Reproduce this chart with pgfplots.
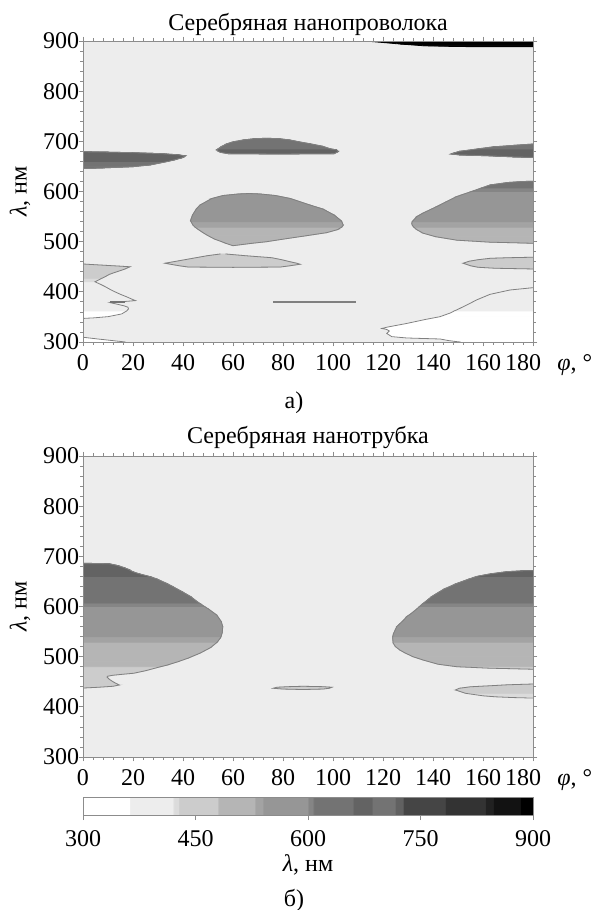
\documentclass[border=0pt,12pt]{standalone}
\usepackage{fontspec}
\setmainfont{Liberation Serif}
\usepackage{pgfplots}
\usepackage{pgfplotstable}
\pgfplotsset{compat=1.18}
\definecolor{bgc}{gray}{0.93}

\pgfplotsset{
  /pgf/number format/assume math mode=true,
  colormap={lam}{gray(0pt)=(1); gray(62pt)=(1); gray(62.5pt)=(0.93); gray(120pt)=(0.93); gray(120.5pt)=(0.86); gray(127pt)=(0.86); gray(127.5pt)=(0.8); gray(180pt)=(0.8); gray(180.5pt)=(0.71); gray(229pt)=(0.71); gray(229.5pt)=(0.64); gray(240pt)=(0.64); gray(240.5pt)=(0.59); gray(300pt)=(0.59); gray(300.5pt)=(0.52); gray(307pt)=(0.52); gray(307.5pt)=(0.45); gray(360pt)=(0.45); gray(360.5pt)=(0.39); gray(385pt)=(0.39); gray(385.5pt)=(0.45); gray(416pt)=(0.45); gray(416.5pt)=(0.38); gray(427pt)=(0.38); gray(427.5pt)=(0.27); gray(483pt)=(0.27); gray(483.5pt)=(0.2); gray(536pt)=(0.2); gray(536.5pt)=(0.13); gray(547pt)=(0.13); gray(547.5pt)=(0.07); gray(583pt)=(0.07); gray(583.5pt)=(0); gray(600pt)=(0)},
  panel/.style={
    scale only axis, width=225pt, height=150.5pt,
    xmin=0, xmax=180, ymin=300, ymax=900,
    xtick={0,20,...,180}, ytick={300,400,...,900},
    xticklabels={0,20,40,60,80,100,120,140,160,\hspace*{-10pt}180},
    yticklabel style={xshift=4.5pt},
    minor x tick num=4, minor y tick num=4,
    tick align=outside,
    major tick length=2.2pt, minor tick length=1.3pt,
    axis line style={black!45, line width=0.5pt},
    every tick/.style={black!45, line width=0.4pt},
    axis background/.style={fill=bgc},
    axis on top,
    colormap name=lam, point meta min=300, point meta max=900,
    xlabel={{\itshape φ}, °},
    xlabel style={at={(axis description cs:1,0)}, anchor=base west, inner sep=0pt, xshift=12pt, yshift=-14pt},
    ylabel={{\itshape λ}, нм},
    ylabel style={at={(axis description cs:-0.14,0.5)}, anchor=center},
    title style={at={(axis description cs:0.5,1)}, anchor=base, inner sep=0pt},
  },
  surfsh/.style={surf, shader=flat mean, point meta=y, mesh/rows=2},
  cline/.style={draw=black!50, line width=0.4pt, no marks},
}
\newcommand\shp[2]{\addplot[surfsh, mesh/cols=#2] table {#1};}
\newcommand\edgeL[2]{\addplot[cline, skip coords between index={#2}{999}] table {#1};}
\newcommand\edgeR[2]{\addplot[cline, skip coords between index={0}{#2}] table {#1};}

% ---------- panel a ----------
\pgfplotstableread[row sep=\\]{x y\\
0 646\\0 647\\0 649.5\\0 653\\0 656\\0 660\\0 663\\0 667\\0 671\\0 673\\0 674.8\\0 676\\0 677.4\\0 678.5\\0 679.2\\
0 646\\8 647\\20 649.5\\27 653\\30 656\\34 660\\36.5 663\\39.5 667\\41 671\\38.5 673\\33.5 674.8\\28 676\\20 677.4\\10 678.5\\0 679.2\\}\tAa
\pgfplotstableread[row sep=\\]{x y\\
78 674.8\\58 675.5\\55 678\\54.2 680\\53.5 683\\54 685\\55.5 690\\57.5 695\\60 699\\64 702.7\\68 705\\73.5 706.3\\
78 674.8\\100.5 675.5\\101.5 678\\102.1 680\\101.5 683\\99 685\\96 690\\91 695\\86.5 699\\82.8 702.7\\79 705\\73.5 706.3\\}\tAb
\pgfplotstableread[row sep=\\]{x y\\
60 492\\57 497\\55.5 500\\52.7 505\\50 512\\48 518\\46.2 524\\44.8 529\\44 533\\43.2 540\\43 542\\43.8 553\\45.3 565\\46.8 573\\51.5 586\\56 592\\62 595\\66.5 596\\
60 492\\68 497\\73.5 500\\80 505\\89.5 512\\97.5 518\\101.8 524\\103.5 529\\104.1 533\\103.5 540\\103.2 542\\100.5 553\\96 565\\90.8 573\\83 586\\77 592\\71 595\\66.5 596\\}\tAc
\pgfplotstableread[row sep=\\]{x y\\
180 496.8\\175 497.5\\162.8 499\\149.5 503\\141 510\\136 517\\133.5 524\\132.3 529\\131.7 533\\131.5 536.6\\131.7 540\\133.5 550\\136 557\\141.5 570\\145.5 580\\149.5 590\\155.4 600\\159.4 607\\162.8 613\\170 618\\176 620\\180 620.5\\
180 496.8\\180 497.5\\180 499\\180 503\\180 510\\180 517\\180 524\\180 529\\180 533\\180 536.6\\180 540\\180 550\\180 557\\180 570\\180 580\\180 590\\180 600\\180 607\\180 613\\180 618\\180 620\\180 620.5\\}\tAd
\pgfplotstableread[row sep=\\]{x y\\
60 448.8\\42 449.5\\38.5 452\\35 455\\32.8 457\\36.2 460\\40.7 464\\45.2 468\\49.7 472\\55 475.5\\
60 448.8\\79 449.5\\82.8 452\\86.8 455\\85.5 457\\82.8 460\\79.5 464\\75.5 468\\65 472\\57 475.5\\}\tAe
\pgfplotstableread[row sep=\\]{x y\\
180 888.5\\150 888.9\\136 890.6\\126.8 894\\120 897\\112.8 900\\
180 888.5\\180 888.9\\180 890.6\\180 894\\180 897\\180 900\\}\tAf
\pgfplotstableread[row sep=\\]{x y\\
180 668\\172 669\\164 670.8\\150.5 673\\147.2 674.8\\148.5 677\\150.5 680\\158 685\\164 689\\172.4 692\\180 694.7\\
180 668\\180 669\\180 670.8\\180 673\\180 674.8\\180 677\\180 680\\180 685\\180 689\\180 692\\180 694.7\\}\tAg
\pgfplotstableread[row sep=\\]{x y\\
151 300\\149.5 300.7\\146 303\\142.8 306\\129.5 308\\123.5 310.7\\121.5 317\\122.5 322\\121.5 325\\119.5 327\\122 330\\129.5 337\\137 345\\142.8 350.5\\147 358\\148.5 362\\149.5 364\\154 375\\157.5 384\\162.8 395\\170.8 403.7\\180 408.3\\
180 300\\180 300.7\\180 303\\180 306\\180 308\\180 310.7\\180 317\\180 322\\180 325\\180 327\\180 330\\180 337\\180 345\\180 350.5\\180 358\\180 362\\180 364\\180 375\\180 384\\180 395\\180 403.7\\180 408.3\\}\tAh
\pgfplotstableread[row sep=\\]{x y\\
0 347\\0 348\\0 350.5\\0 356\\0 362\\0 366\\0 369.3\\0 372\\0 375\\0 378.5\\0 380.5\\0 382.5\\0 386\\0 390\\0 395\\0 400\\0 405\\0 410\\0 415\\0 420\\0 427\\0 430\\0 435\\0 440\\0 445\\0 450\\0 452\\0 454\\0 455.5\\
0 347\\4 348\\10 350.5\\15.5 356\\17.5 362\\18.2 366\\18 369.3\\16.5 372\\14 375\\10.8 378.5\\16 380.5\\21 382.5\\19.3 386\\17.5 390\\15 395\\12.8 400\\10.8 405\\9 410\\7 415\\4.8 420\\7.5 427\\8.8 430\\10.6 435\\13.5 440\\16.5 445\\18.8 450\\12 452\\5 454\\0 455.5\\}\tAi
\pgfplotstableread[row sep=\\]{x y\\
0 300\\0 303\\0 306\\0 309.5\\
17 300\\11.5 303\\6 306\\0 309.5\\}\tAj
\pgfplotstableread[row sep=\\]{x y\\
180 445.6\\165 447\\158 449\\155 452\\152.1 457\\154.5 461\\158 464\\162.8 466.8\\170 468\\180 469\\
180 445.6\\180 447\\180 449\\180 452\\180 457\\180 461\\180 464\\180 466.8\\180 468\\180 469\\}\tAk

% ---------- panel b ----------
\pgfplotstableread[row sep=\\]{x y\\
0 437.5\\0 439\\0 441\\0 443.6\\0 446\\0 450\\0 455\\0 459.5\\0 461\\0 463\\0 465\\0 467\\0 472\\0 476\\0 480\\0 483\\0 490\\0 497\\0 507\\0 518\\0 529\\0 537\\0 540\\0 548\\0 560\\0 570\\0 583\\0 595\\0 600\\0 606\\0 607\\0 620\\0 630\\0 640\\0 646\\0 655\\0 660\\0 665\\0 669\\0 674\\0 678\\0 682\\0 685\\0 685.5\\0 686.3\\
0 437.5\\6 439\\12 441\\14.5 443.6\\13.5 446\\12 450\\10.5 455\\9.6 459.5\\9.8 461\\12 463\\16 465\\20.3 467\\25 472\\28 476\\31 480\\33.5 483\\38 490\\42 497\\46.8 507\\51 518\\53.7 529\\54.9 537\\55.2 540\\55.7 548\\55.9 560\\55.3 570\\53.5 583\\50.2 595\\48.6 600\\46.8 606\\46.4 607\\43 620\\39.5 630\\35.8 640\\33.5 646\\29.5 655\\26.5 660\\22.6 665\\20.1 669\\18.2 674\\16.1 678\\13.5 682\\10.8 685\\8 685.5\\0 686.3\\}\tBa
\pgfplotstableread[row sep=\\]{x y\\
180 475\\172 476\\162.8 477\\149.5 480\\142 485\\136 493.4\\132 500\\129 507\\126.8 513\\125 520\\124.1 526.7\\124 529\\123.9 536.6\\123.9 540\\124.2 546\\125.5 560\\128.3 573\\129.5 580\\131 585\\133.5 595\\134.6 600\\136 606\\136.3 607\\139.5 620\\142.8 630\\144.5 635\\149.5 646\\154.5 655\\157.5 660\\162.8 665\\169.5 669.5\\175 671\\180 671.5\\
180 475\\180 476\\180 477\\180 480\\180 485\\180 493.4\\180 500\\180 507\\180 513\\180 520\\180 526.7\\180 529\\180 536.6\\180 540\\180 546\\180 560\\180 573\\180 580\\180 585\\180 595\\180 600\\180 606\\180 607\\180 620\\180 630\\180 635\\180 646\\180 655\\180 660\\180 665\\180 669.5\\180 671\\180 671.5\\}\tBb
\pgfplotstableread[row sep=\\]{x y\\
88 434.5\\80 435.5\\76.1 437\\77.5 439\\82 440.2\\88 441\\
88 434.5\\96 435.5\\98.5 437\\99.5 439\\96 440.2\\88 441\\}\tBc
\pgfplotstableread[row sep=\\]{x y\\
180 417.5\\172 418.5\\165 420\\160 422\\153 427\\149 433.6\\150.5 437\\155 440\\162.8 442\\170 444\\180 445.5\\
180 417.5\\180 418.5\\180 420\\180 422\\180 427\\180 433.6\\180 437\\180 440\\180 442\\180 444\\180 445.5\\}\tBd

\begin{document}
\begin{tikzpicture}
\path[use as bounding box] (0pt,0pt) rectangle (295pt,-455pt);

\begin{axis}[panel, at={(41.5pt,-171pt)}, anchor=south west,
  title={Серебряная нанопроволока}, title style={yshift=-0.8pt}]
  \shp{\tAa}{15}\shp{\tAb}{12}\shp{\tAc}{18}\shp{\tAd}{22}
  \shp{\tAe}{10}\shp{\tAf}{6}\shp{\tAg}{11}\shp{\tAh}{22}
  \shp{\tAi}{29}\shp{\tAj}{4}\shp{\tAk}{10}
  \edgeR{\tAa}{15}
  \edgeL{\tAb}{12}\edgeR{\tAb}{12}
  \edgeL{\tAc}{18}\edgeR{\tAc}{18}
  \edgeL{\tAd}{22}
  \edgeL{\tAe}{10}\edgeR{\tAe}{10}
  \edgeL{\tAg}{11}
  \edgeL{\tAh}{22}
  \edgeR{\tAi}{29}
  \edgeR{\tAj}{4}
  \edgeL{\tAk}{10}
  \addplot[draw=black!55, line width=1pt, no marks] coordinates {(10.8,379.5) (16.8,379.5)};
  \addplot[draw=black!50, line width=0.9pt, no marks] coordinates {(76,380.5) (109,380.5)};
\end{axis}

\begin{axis}[panel, at={(41.5pt,-378.5pt)}, anchor=south west,
  title={Серебряная нанотрубка}, title style={yshift=0.2pt},
  colorbar horizontal,
  colorbar style={
    at={(parent axis.south west)}, anchor=north west, yshift=-11.5pt,
    scale only axis, width=225pt, height=9pt,
    xtick={300,450,600,750,900}, xticklabels={300,450,600,750,900},
    xticklabel style={yshift=-1pt},
    minor x tick num=0,
    xtick pos=left, tick align=outside, major tick length=2.5pt,
    axis line style={black!45, line width=0.5pt},
    every tick/.style={black!45, line width=0.4pt},
    xlabel={{\itshape λ}, нм},
    xlabel style={at={(axis description cs:0.5,0)}, anchor=base, inner sep=0pt, yshift=-28pt},
  }]
  \shp{\tBa}{45}\shp{\tBb}{33}\shp{\tBc}{6}\shp{\tBd}{11}
  \edgeR{\tBa}{45}
  \edgeL{\tBb}{33}
  \edgeL{\tBc}{6}\edgeR{\tBc}{6}
  \edgeL{\tBd}{11}
\end{axis}

\node at (147pt,-201.5pt) {а)};
\node at (147pt,-450pt) {б)};
\end{tikzpicture}
\end{document}
